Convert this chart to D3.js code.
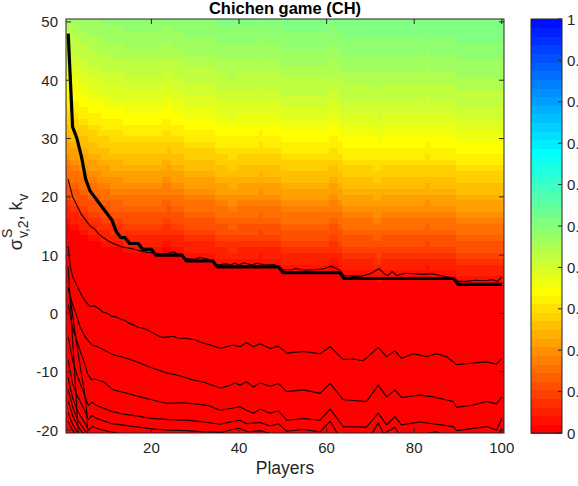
<!DOCTYPE html>
<html>
<head>
<meta charset="utf-8">
<script src="https://cdn.jsdelivr.net/npm/d3@7"></script>
<style>
  html, body { margin: 0; padding: 0; background: #fff; overflow: hidden; }
  svg { display: block; font-family: "Liberation Sans", Arial, Helvetica, sans-serif; }
</style>
</head>
<body>
<svg id="chart" width="578" height="486"></svg>
<script>
// ---------------- data ----------------
const players = d3.range(1, 101);            // number of players (x grid)
const sigmaLevels = d3.range(-20, 51);       // sigma / k levels (y grid)
const xTicks = [20, 40, 60, 80, 100];
const yTicks = [-20, -10, 0, 10, 20, 30, 40, 50];
const cbTicks = [0, 0.1, 0.2, 0.3, 0.4, 0.5, 0.6, 0.7, 0.8, 0.9, 1];
const cbTickLabels = ["0", "0.1", "0.2", "0.3", "0.4", "0.5", "0.6", "0.7", "0.8", "0.9", "1"];

// cooperation level as a function of sigma (reference column)
const profileY = [51, 50, 46, 42, 38, 34, 30, 26, 22, 18, 14, 11, 9, 8, 7.5, -21];
const profileV = [0.505, 0.50, 0.475, 0.445, 0.41, 0.37, 0.325, 0.28, 0.225, 0.165, 0.105, 0.06, 0.03, 0.01, 0, 0];

// per-player offset of that profile along sigma
const columnShift = [
  7, 6, 6, 5, 5, 4, 4, 3.5, 3, 3,
  2.5, 2.5, 2.5, 2, 2, 2, 2, 2, 2, 2,
  2, 2, 2.6, 2.8, 2, 2, 2, 1, 1, 1,
  1, 1, 1, 1, 0, 0, 0, -0.5, -0.5, 0,
  0, 0, 0, 0, 0.4, 0, 0, 0, 0, -1,
  -1, -1, -1, -1, -1, -1, -1, -1, -1, -1,
  -0.3, -0.2, -1, -2, -2, -2, -2, -2, -2, -2,
  -2.5, -2.6, -2, -2, -2, -2, -2, -2, -2, -2,
  -2, -2, -1.6, -2, -2, -2, -2, -2, -2, -3,
  -3, -3, -3, -3, -3, -3, -3, -3, -3, -3
];

// threshold k_v for each number of players (thick curve)
const thresholdK = [
  48, 32, 30, 27, 23, 21, 20, 19, 18, 17,
  16, 14, 13, 13, 12, 12, 12, 11, 11, 11,
  10, 10, 10, 10, 10, 10, 10, 9, 9, 9,
  9, 9, 9, 9, 8, 8, 8, 8, 8, 8,
  8, 8, 8, 8, 8, 8, 8, 8, 8, 7,
  7, 7, 7, 7, 7, 7, 7, 7, 7, 7,
  7, 7, 7, 6, 6, 6, 6, 6, 6, 6,
  6, 6, 6, 6, 6, 6, 6, 6, 6, 6,
  6, 6, 6, 6, 6, 6, 6, 6, 6, 5,
  5, 5, 5, 5, 5, 5, 5, 5, 5, 5
];

// iso-lines of sigma^S_{v,2} (thin curves), points [players, sigma]
const isoA = [[1,23],[2,20],[3,18.5],[4,17],[5,16],[6,15],[7,14.5],[8,13.6],[9,13],[10,12.5],[11,12.1],[12,11.8],
  [13,11.5],[14,11.3],[15,11.2],[16,11],[17,10.8],[18,10.6],[19,10.5],[20,10.4],[21,10.3],[22,10.2],[24,10.3],
  [25,10.6],[26,10.2],[28,9.4],[30,9.3],[31,9.6],[33,9.3],[35,8.3],[37,8.5],[38,8.3],[39,8.6],[40,8.3],[41,8.7],
  [43,8.3],[44,8.6],[46,8.3],[48,8.4],[50,7.5],[52,7.5],[53,7.7],[55,7.4],[57,7.5],[59,7.6],[61,8.1],[63,7.4],
  [64,6.5],[66,6.4],[68,6.4],[70,6.8],[72,7.7],[73,6.9],[74,6.5],[75,7.2],[76,6.5],[78,6.9],[80,6.8],[82,6.7],
  [84,6.8],[86,6.5],[88,6.2],[89,6.1],[90,5.5],[92,5.5],[94,5.7],[96,5.6],[98,5.8],[99,5.5],[100,6.3]];
const isoB = [[1,11.5],[1.5,8],[2,6.3],[3,4.8],[4,3.2],[5,2],[6,1.2],[7,1.3],[8,0.8],[9,0.2],[10,0],[11,-0.5],
  [12,-0.6],[13,-1],[14,-1.2],[15,-1.7],[16,-2],[17,-2.4],[18,-2.5],[19,-2.8],[20,-3.2],[21,-3.6],[22,-4],
  [23,-4.1],[25,-3.9],[26,-4.2],[28,-4.3],[30,-4.5],[31,-4.9],[33,-5.3],[35.7,-5.97],[38.7,-5.4],[40.2,-5.7],
  [41.7,-5.0],[43.3,-5.7],[44.8,-5.2],[47.1,-6.0],[49,-5.6],[50.9,-6.8],[54.7,-6.5],[58.5,-6.9],[60.8,-5.7],
  [63.8,-7.9],[66,-7.8],[68.4,-8.1],[71.8,-5.8],[73.7,-7.4],[75.6,-6.4],[77.1,-7.7],[79.8,-6.9],[82.8,-7.4],
  [85.1,-6.9],[87.4,-7.4],[89.7,-8.8],[93.5,-8.5],[96.5,-8.3],[98.8,-8.7],[100,-7.7]];
const isoC = [[1,4.4],[2,1.5],[3,-0.5],[3.7,-2.3],[5,-4.2],[6.4,-5.4],[8,-5.8],[9,-6.2],[11.3,-7.1],[14,-7.6],
  [17.4,-8.5],[20,-9.3],[23.5,-10.2],[26,-10.6],[29.6,-11.4],[32,-11.8],[35.7,-12.8],[38,-12.3],[39.1,-11.9],
  [40.2,-12.3],[41.7,-11.7],[43.3,-12.6],[44.8,-11.9],[47.1,-12.5],[49,-12],[50.9,-13.4],[54.7,-13.1],
  [58.5,-13.7],[60.8,-12],[63.8,-14.8],[69.1,-15.1],[71.8,-12.3],[73.7,-14.3],[75.6,-13.1],[77.1,-14.4],
  [81.3,-14],[84.4,-14.3],[88.9,-15.1],[89.7,-16.1],[93.5,-15.7],[96.5,-15.1],[98.8,-15.5],[100,-14.3]];
const isoD = [[1,1.5],[2,-2.5],[2.9,-4.5],[4,-7],[4.5,-8],[5.5,-10.5],[6.4,-11.4],[7,-11.2],[8,-11.5],[9,-11.7],
  [11.3,-13.1],[14,-13.6],[17.4,-14.3],[20,-14.8],[23.5,-15.4],[27,-15.3],[30,-15.5],[33,-15.8],[35.7,-16.6],
  [38,-16.3],[40.2,-16],[41.7,-16.6],[43.3,-17.1],[44.8,-16.4],[47.1,-17.1],[49,-16.7],[50.9,-18.3],[54.7,-18],
  [58.5,-18.3],[60.8,-16.4],[63.8,-19.4],[69.1,-19.5],[71.8,-17.1],[73.7,-19.1],[75.6,-17.7],[77.1,-19.1],
  [81.3,-18.6],[88.9,-19.4],[89.7,-20.1],[93.5,-19.7],[96.5,-19.4],[98.8,-20],[100,-18]];
const isoE = [[1,-4],[1.5,-6],[2,-8],[3,-10.5],[4,-12.5],[5,-14.5],[5.6,-15.8],[6.5,-15.2],[7.5,-15.8],[9,-16.2],
  [11,-16.8],[14,-17.3],[17,-17.6],[20,-18],[24,-18.2],[28,-18.3],[32,-18.6],[35.7,-19],[38,-18.6],[40.2,-18.3],
  [41.7,-18.9],[44.8,-18.7],[47.1,-19.3],[49,-18.9],[50.9,-20.2],[54.7,-19.9],[58.5,-20.3],[60.8,-18.5],
  [62.5,-20.6],[66,-21],[70,-21],[71.8,-18.8],[73,-20.6],[75.6,-19.5],[76.5,-20.6],[80,-21],[85,-20.3],
  [86,-20.6],[90,-21.3],[95,-21],[99,-21.2],[100,-19.7]];
const isoF = [[1,-8],[1.5,-10],[2,-12],[3,-14],[4,-15.5],[5,-17],[5.6,-18.2],[6.5,-17.5],[7.5,-18],[9,-18.4],
  [11,-18.9],[14,-19.2],[17,-19.5],[20,-19.8],[24,-20],[28,-20.1],[32,-20.3],[36,-20.4],[38,-20],[40,-19.7],
  [42,-20.3],[45,-20.1],[48,-20.8]];
const isoG = [[1,-11],[2,-14.5],[3,-16.5],[4,-17.8],[5,-19],[5.6,-20],[6.5,-19.4],[8,-19.8],[10,-20.2],[14,-20.8]];
const isoH = [[1,-13],[2,-16],[3,-18],[4,-19.2],[5,-20.2],[5.6,-20.8]];
const isoI = [[1,-15],[2,-17.5],[3,-19],[4,-20.2],[5,-21]];
const isoJ = [[1,-17],[2,-19],[3,-20.3],[4,-21]];
const isoK = [[1,-18.5],[2,-20],[3,-21]];
const isoS1 = [[1,8],[1.4,3],[1.8,-2],[2.3,-8],[2.8,-14],[3.3,-20.8]];
const isoS2 = [[1,4.5],[1.6,2],[2.5,-3],[3.5,-8],[4.5,-12.5],[5.2,-16.5],[5.5,-20.8]];

const isoLines = [isoA, isoB, isoC, isoD, isoE, isoF, isoG, isoH, isoI, isoJ, isoK, isoS1, isoS2];

// ---------------- layout ----------------
const plot = { left: 66, right: 504, top: 19, bottom: 433 };
const cbBox = { left: 531, right: 562, top: 19, bottom: 433 };
const axisColor = "#262626";
const textColor = "#262626";

const svg = d3.select("#chart");

const x = d3.scaleLinear().domain([0.5, 100.5]).range([plot.left, plot.right]);
const y = d3.scaleLinear().domain([-20.5, 50.5]).range([plot.bottom, plot.top]);

// colour map: reversed middle part of the 64-step jet map (red -> yellow -> cyan -> blue)
function jet(m) {
  const n = Math.ceil(m / 4);
  const u = [];
  for (let i = 1; i <= n; i++) u.push(i / n);
  for (let i = 0; i < n - 1; i++) u.push(1);
  for (let i = n; i >= 1; i--) u.push(i / n);
  const g0 = Math.ceil(n / 2) - (m % 4 === 1 ? 1 : 0);
  const rows = d3.range(m).map(() => [0, 0, 0]);
  u.forEach((val, k) => {
    const gi = g0 + k, ri = gi + n, bi = gi - n;
    if (ri >= 0 && ri < m) rows[ri][0] = val;
    if (gi >= 0 && gi < m) rows[gi][1] = val;
    if (bi >= 0 && bi < m) rows[bi][2] = val;
  });
  return rows;
}
const jet64 = jet(64);
const cmap = jet64.slice(8, 56).reverse().map(c => d3.rgb(c[0] * 255, c[1] * 255, c[2] * 255).formatHex());
const colorIndex = v => Math.max(0, Math.min(cmap.length - 1, Math.floor(v * cmap.length)));
const colorOf = v => cmap[colorIndex(v)];

const profile = d3.scaleLinear().domain(profileY).range(profileV).clamp(true);

// ---------------- heat map ----------------
svg.append("defs").append("clipPath").attr("id", "plotClip")
  .append("rect").attr("x", plot.left).attr("y", plot.top)
  .attr("width", plot.right - plot.left).attr("height", plot.bottom - plot.top);

const cells = [];
players.forEach((p, i) => {
  sigmaLevels.forEach(s => {
    cells.push({ p, s, v: profile(s - columnShift[i]) });
  });
});

const heat = svg.append("g").attr("clip-path", "url(#plotClip)");
heat.selectAll("rect.cell").data(cells).join("rect")
  .attr("class", "cell")
  .attr("x", d => x(d.p - 0.5))
  .attr("y", d => y(d.s + 0.5))
  .attr("width", d => x(d.p + 0.5) - x(d.p - 0.5) + 0.6)
  .attr("height", d => y(d.s - 0.5) - y(d.s + 0.5) + 0.6)
  .attr("fill", d => colorOf(d.v))
  .attr("shape-rendering", "crispEdges");

// ---------------- curves ----------------
const line = d3.line().x(d => x(d[0])).y(d => y(d[1]));
const curves = svg.append("g").attr("clip-path", "url(#plotClip)");

curves.selectAll("path.iso").data(isoLines).join("path")
  .attr("class", "iso")
  .attr("d", line)
  .attr("fill", "none")
  .attr("stroke", "#150000")
  .attr("stroke-width", 1.1)
  .attr("stroke-linejoin", "round");

curves.append("path")
  .datum(players.map((p, i) => [p, thresholdK[i]]))
  .attr("d", line)
  .attr("fill", "none")
  .attr("stroke", "#000")
  .attr("stroke-width", 3.2)
  .attr("stroke-linejoin", "round");

// ---------------- axes ----------------
const tickLen = 5;
const axes = svg.append("g");
axes.append("rect")
  .attr("x", plot.left).attr("y", plot.top)
  .attr("width", plot.right - plot.left).attr("height", plot.bottom - plot.top)
  .attr("fill", "none").attr("stroke", axisColor).attr("stroke-width", 1);

xTicks.forEach(t => {
  const px = x(t);
  axes.append("line").attr("x1", px).attr("x2", px).attr("y1", plot.bottom).attr("y2", plot.bottom - tickLen)
    .attr("stroke", axisColor);
  axes.append("line").attr("x1", px).attr("x2", px).attr("y1", plot.top).attr("y2", plot.top + tickLen)
    .attr("stroke", axisColor);
  axes.append("text").attr("x", px).attr("y", plot.bottom + 20)
    .attr("text-anchor", "middle").attr("font-size", 15).attr("fill", textColor).text(t);
});
yTicks.forEach(t => {
  const py = y(t);
  axes.append("line").attr("x1", plot.left).attr("x2", plot.left + tickLen).attr("y1", py).attr("y2", py)
    .attr("stroke", axisColor);
  axes.append("line").attr("x1", plot.right).attr("x2", plot.right - tickLen).attr("y1", py).attr("y2", py)
    .attr("stroke", axisColor);
  axes.append("text").attr("x", plot.left - 8).attr("y", py + 5.5)
    .attr("text-anchor", "end").attr("font-size", 15).attr("fill", textColor).text(t);
});

// title and axis labels
svg.append("text").attr("x", (plot.left + plot.right) / 2).attr("y", 13.5)
  .attr("text-anchor", "middle").attr("font-size", 16.5).attr("font-weight", "bold")
  .attr("fill", "#000").text("Chichen game (CH)");

svg.append("text").attr("x", (plot.left + plot.right) / 2).attr("y", 474)
  .attr("text-anchor", "middle").attr("font-size", 17.5).attr("fill", textColor).text("Players");

// y label: sigma^S_{v,2}, k_v  (rotated, super/subscripts stacked)
const yl = svg.append("g");
function piece(txt, size, dy) {
  return yl.append("text").attr("font-size", size).attr("fill", textColor).attr("y", dy).text(txt);
}
const tSig = piece("σ", 18, 0);
const tSup = piece("S", 14, -10);
const tSub = piece("v,2", 14, 6);
const tK = piece(", k", 18, 0);
const tKs = piece("v", 14, 6);
let cx = 0;
tSig.attr("x", cx); cx += tSig.node().getComputedTextLength() + 1;
tSup.attr("x", cx); tSub.attr("x", cx);
cx += Math.max(tSup.node().getComputedTextLength(), tSub.node().getComputedTextLength());
tK.attr("x", cx); cx += tK.node().getComputedTextLength() + 0.5;
tKs.attr("x", cx); cx += tKs.node().getComputedTextLength();
const labelMid = (plot.top + plot.bottom) / 2 - 4;
yl.attr("transform", `translate(22, ${labelMid + cx / 2}) rotate(-90)`);

// ---------------- colour bar ----------------
const cbScale = d3.scaleLinear().domain([0, 1]).range([cbBox.bottom, cbBox.top]);
const cb = svg.append("g");
cb.selectAll("rect.band").data(cmap).join("rect")
  .attr("class", "band")
  .attr("x", cbBox.left)
  .attr("width", cbBox.right - cbBox.left)
  .attr("y", (c, i) => cbScale((i + 1) / cmap.length))
  .attr("height", (c, i) => cbScale(i / cmap.length) - cbScale((i + 1) / cmap.length) + 0.6)
  .attr("fill", c => c)
  .attr("shape-rendering", "crispEdges");
cb.append("rect")
  .attr("x", cbBox.left).attr("y", cbBox.top)
  .attr("width", cbBox.right - cbBox.left).attr("height", cbBox.bottom - cbBox.top)
  .attr("fill", "none").attr("stroke", axisColor);
cbTicks.forEach((t, i) => {
  const py = cbScale(t);
  cb.append("line").attr("x1", cbBox.right).attr("x2", cbBox.right - 4).attr("y1", py).attr("y2", py)
    .attr("stroke", axisColor);
  cb.append("text").attr("x", cbBox.right + 5).attr("y", py + 5.5)
    .attr("font-size", 15).attr("fill", textColor).text(cbTickLabels[i]);
});
</script>
</body>
</html>
